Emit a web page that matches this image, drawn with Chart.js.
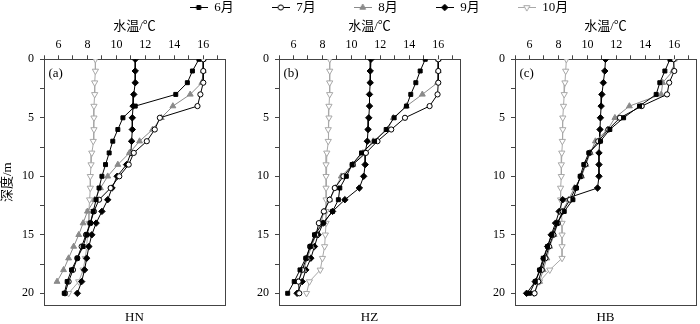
<!DOCTYPE html>
<html lang="zh">
<head>
<meta charset="utf-8">
<title>水温垂直分布</title>
<script src="https://cdn.jsdelivr.net/npm/chart.js@4.4.1/dist/chart.umd.min.js"></script>
<style>
    html, body { margin: 0; padding: 0; background: #fff; }
    body { width: 700px; height: 324px; position: relative; overflow: hidden; }
    canvas { position: absolute; }
</style>
</head>
<body>
<canvas id="panelA" width="230" height="324" style="left:0px;top:0px"></canvas>
<canvas id="panelB" width="230" height="324" style="left:235px;top:0px"></canvas>
<canvas id="panelC" width="230" height="324" style="left:471px;top:0px"></canvas>
<canvas id="legend" width="700" height="120" style="left:29px;top:-37px"></canvas>
<script>
// ============================================================================
// データ(深度 m / 水温 ℃)
// ============================================================================

const depths = [0, 1, 2, 3, 4, 5, 6, 7, 8, 9, 10, 11, 12, 13, 14, 15, 16, 17, 18, 19, 20];
const months = ["6月", "7月", "8月", "9月", "10月"];
const sites = ["HN", "HZ", "HB"];
const tags = ["(a)", "(b)", "(c)"];

// HN
const hnJun = [15.7, 15.25, 14.9, 14.1, 11.3, 10.45, 10.1, 9.75, 9.5, 9.25, 9.0, 8.8, 8.6, 8.4, 8.2, 7.95, 7.7, 7.3, 6.9, 6.6, 6.4];
const hnJul = [16.0, 16.0, 16.0, 15.8, 15.6, 13.0, 12.65, 12.1, 11.2, 10.85, 10.2, 9.6, 8.8, 8.45, 8.2, 7.9, 7.6, 7.3, 7.0, 6.7, 6.45];
const hnAug = [16.0, 16.0, 15.9, 15.1, 13.9, 13.1, 12.5, 11.6, 10.9, 10.1, 9.4, 8.9, 8.5, 8.0, 7.7, 7.4, 7.05, 6.7, 6.35, 5.9, null];
const hnSep = [11.3, 11.3, 11.3, 11.2, 11.15, 11.1, 11.1, 11.05, 11.0, 10.7, 10.05, 9.7, 9.4, 9.0, 8.6, 8.3, 8.1, 7.95, 7.8, 7.6, 7.3];
const hnOct = [8.55, 8.55, 8.5, 8.5, 8.45, 8.45, 8.45, 8.4, 8.3, 8.25, 8.2, 8.2, 8.15, 8.1, 8.1, 8.0, 7.95, 7.85, 7.7, 7.4, 6.7];

// HZ
const hzJun = [15.1, 14.75, 14.45, 14.1, 13.8, 12.95, 12.4, 11.6, 10.7, 10.05, 9.65, 9.2, 9.1, 8.7, 8.05, 7.45, 7.15, 6.85, 6.45, 6.05, 5.6];
const hzJul = [16.0, 16.0, 16.0, 15.95, 15.4, 13.7, 12.75, 11.8, 11.0, 10.1, 9.45, 8.85, 8.5, 8.1, 7.75, 7.55, 7.15, 6.9, 6.6, 6.35, 6.4];
const hzAug = [16.0, 16.0, 15.95, 14.9, 13.8, 12.9, 12.5, 11.5, 10.8, 10.1, 9.3, 8.9, 8.5, 8.1, 7.9, 7.55, 7.25, 6.95, 6.7, 6.3, null];
const hzSep = [11.35, 11.3, 11.3, 11.25, 11.25, 11.2, 11.15, 11.1, 10.95, 10.95, 10.85, 10.55, 9.55, 8.7, 8.05, 7.7, 7.45, 7.2, 6.85, 6.6, 6.25];
const hzOct = [8.5, 8.5, 8.5, 8.5, 8.45, 8.45, 8.4, 8.4, 8.3, 8.25, 8.25, 8.25, 8.25, 8.25, 8.25, 8.2, 8.15, 8.0, 7.85, 7.1, 6.9];

// HB
const hbJun = [15.7, 15.35, 15.0, 14.75, 13.6, 12.5, 11.55, 10.9, 10.1, 9.75, 9.5, 9.25, 9.0, 8.4, 7.9, 7.55, 7.25, 6.95, 6.7, 6.4, 6.0];
const hbJul = [15.95, 16.0, 15.65, 15.5, 13.75, 12.25, 11.45, 10.75, 10.15, 9.85, 9.55, 9.2, 8.8, 8.3, 7.95, 7.65, 7.35, 7.1, 6.85, 6.6, 6.35];
const hbAug = [16.0, 15.9, 15.2, 15.1, 12.9, 11.9, 11.4, 10.55, 10.2, 9.9, 9.6, 9.1, 8.7, 8.25, 7.95, 7.7, 7.4, 7.2, 6.95, 6.7, null];
const hbSep = [11.25, 11.2, 11.1, 11.0, 10.95, 10.9, 10.87, 10.85, 10.8, 10.8, 10.8, 10.7, 8.3, 8.05, 7.8, 7.5, 7.25, 7.0, 6.75, 6.4, 5.8];
const hbOct = [8.55, 8.5, 8.45, 8.4, 8.35, 8.3, 8.3, 8.27, 8.23, 8.2, 8.2, 8.15, 8.15, 8.2, 8.25, 8.25, 8.25, 8.25, 7.4, 6.7, 6.3];

// 軸の目盛り
const tempMin = 5;
const tempMax = 17.5;
const depthMax = 21;


// ============================================================================
// 見た目の設定
// ============================================================================

const FONT = "'Liberation Serif', 'Times New Roman', 'Noto Sans CJK SC', serif";
const AXIS = "#444";

// 月ごとの線とマーカー
const seriesStyles = [
    { color: "#000", fill: "#000", pointStyle: "rect", radius: 2.8, rotation: 0 },
    { color: "#000", fill: "#fff", pointStyle: "circle", radius: 2.6, rotation: 0 },
    { color: "#8a8a8a", fill: "#8a8a8a", pointStyle: "triangle", radius: 3.4, rotation: 0 },
    { color: "#000", fill: "#000", pointStyle: "rectRot", radius: 3.2, rotation: 0 },
    { color: "#a8a8a8", fill: "#fff", pointStyle: "triangle", radius: 3.6, rotation: 180 },
];

const toPoints = (temps) =>
    depths.map((d, i) => ({ x: temps[i], y: d })).filter((p) => p.x !== null);

// パネル左上の (a)(b)(c)
const panelTag = {
    id: "panelTag",
    afterDraw: (chart, args, opts) => {
        const { ctx, chartArea } = chart;
        ctx.save();
        ctx.font = "13px " + FONT;
        ctx.fillStyle = "#000";
        ctx.textBaseline = "middle";
        ctx.fillText(opts.text, chartArea.left + 4.5, chartArea.top + 14);
        ctx.restore();
    },
};


// ============================================================================
// パネル描画
// ============================================================================

const makePanel = (id, series, idx) => {
    new Chart(document.getElementById(id), {
        type: "line",
        data: {
            datasets: series.map((temps, i) => {
                const st = seriesStyles[i];
                return {
                    label: months[i],
                    data: toPoints(temps),
                    borderColor: st.color,
                    borderWidth: 1,
                    backgroundColor: st.fill,
                    pointBackgroundColor: st.fill,
                    pointBorderColor: st.color,
                    pointBorderWidth: 1,
                    pointStyle: st.pointStyle,
                    pointRadius: st.radius,
                    pointRotation: st.rotation,
                    tension: 0,
                };
            }),
        },
        options: {
            responsive: false,
            animation: false,
            events: [],
            layout: { padding: { left: 0, right: 1.5, top: 0, bottom: 0 } },
            plugins: {
                legend: { display: false },
                tooltip: { enabled: false },
                panelTag: { text: tags[idx] },
            },
            scales: {
                x: {
                    type: "linear",
                    position: "top",
                    min: tempMin,
                    max: tempMax,
                    afterFit: (s) => { s.height = 59.3; },
                    ticks: {
                        stepSize: 1,
                        includeBounds: false,
                        autoSkip: false,
                        maxRotation: 0,
                        padding: 3,
                        color: "#000",
                        font: { family: FONT, size: 12 },
                        callback: (v) => (v % 2 === 0 ? v : ""),
                    },
                    grid: { drawOnChartArea: false, drawTicks: true, tickLength: 4, color: AXIS },
                    border: { display: true, color: AXIS, width: 1 },
                    title: {
                        display: true,
                        text: "水温/℃",
                        color: "#000",
                        padding: { top: 20.5, bottom: 0 },
                        font: { family: FONT, size: 13, lineHeight: 1 },
                    },
                },
                x2: {
                    type: "linear",
                    position: "bottom",
                    afterFit: (s) => { s.height = 19; },
                    ticks: { display: false },
                    grid: { display: false, drawTicks: false },
                    border: { display: true, color: AXIS, width: 1 },
                    title: {
                        display: true,
                        text: sites[idx],
                        color: "#000",
                        padding: { top: 0, bottom: 0 },
                        font: { family: FONT, size: 13, lineHeight: 1 },
                    },
                },
                y: {
                    type: "linear",
                    position: "left",
                    reverse: true,
                    min: 0,
                    max: depthMax,
                    afterFit: (s) => { s.width = 44; },
                    ticks: {
                        stepSize: 2.5,
                        includeBounds: false,
                        autoSkip: false,
                        padding: 6,
                        color: "#000",
                        font: { family: FONT, size: 12 },
                        callback: (v) => (v % 5 === 0 ? v : ""),
                    },
                    grid: { drawOnChartArea: false, drawTicks: true, tickLength: 4, color: AXIS },
                    border: { display: true, color: AXIS, width: 1 },
                    title: {
                        display: idx === 0,
                        text: "深度/m",
                        color: "#000",
                        padding: { top: 1.5, bottom: 0 },
                        font: { family: FONT, size: 13, lineHeight: 1 },
                    },
                },
                y2: {
                    type: "linear",
                    position: "right",
                    afterFit: (s) => { s.width = 0; },
                    ticks: { display: false },
                    grid: { display: false, drawTicks: false },
                    border: { display: true, color: AXIS, width: 1 },
                },
            },
        },
        plugins: [panelTag],
    });
};

makePanel("panelA", [hnJun, hnJul, hnAug, hnSep, hnOct], 0);
makePanel("panelB", [hzJun, hzJul, hzAug, hzSep, hzOct], 1);
makePanel("panelC", [hbJun, hbJul, hbAug, hbSep, hbOct], 2);


// ============================================================================
// 凡例(線+マーカーのアイコン)
// ============================================================================

const legendIcon = (st) => {
    const c = document.createElement("canvas");
    c.width = 18;
    c.height = 11;
    const g = c.getContext("2d");
    g.strokeStyle = st.color;
    g.lineWidth = 1;
    g.beginPath();
    g.moveTo(0, 5.5);
    g.lineTo(18, 5.5);
    g.stroke();
    g.fillStyle = st.fill;
    Chart.helpers.drawPoint(g, {
        pointStyle: st.pointStyle,
        radius: st.radius,
        rotation: st.rotation,
        borderWidth: 1,
    }, 9, 5.5);
    return c;
};

const icons = seriesStyles.map(legendIcon);

new Chart(document.getElementById("legend"), {
    type: "line",
    data: { datasets: months.map((m) => ({ label: m, data: [] })) },
    options: {
        responsive: false,
        animation: false,
        events: [],
        scales: { x: { display: false }, y: { display: false } },
        plugins: {
            tooltip: { enabled: false },
            legend: {
                position: "top",
                labels: {
                    usePointStyle: true,
                    pointStyleWidth: 18,
                    padding: 38,
                    color: "#000",
                    font: { family: FONT, size: 13 },
                    generateLabels: () => seriesStyles.map((st, i) => ({
                        text: months[i],
                        pointStyle: icons[i],
                        fillStyle: st.fill,
                        strokeStyle: st.color,
                        lineWidth: 0,
                        hidden: false,
                        datasetIndex: i,
                    })),
                },
            },
        },
    },
});
</script>
</body>
</html>
